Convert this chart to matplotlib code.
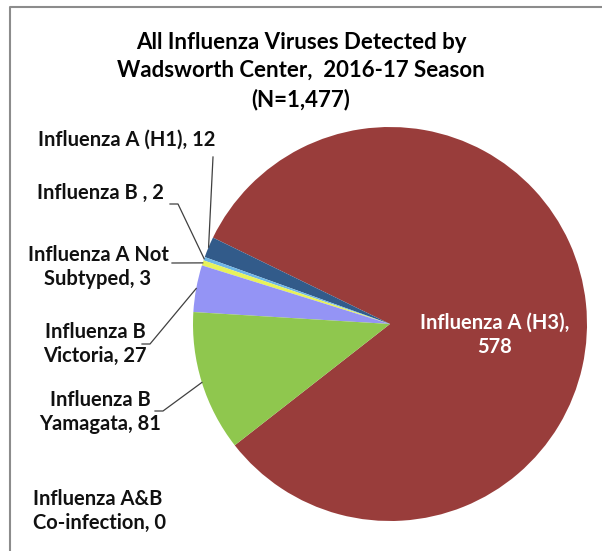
import numpy as np
import matplotlib.pyplot as plt

# data
categories = ['Influenza A (H3)', 'Influenza A (H1)', 'Influenza B ', 'Influenza A Not\nSubtyped',
              'Influenza B\nVictoria', 'Influenza B\nYamagata', 'Influenza A&B\nCo-infection']
counts = [578, 12, 2, 3, 27, 81, 0]
colors = ['#993d3b', '#325b8a', '#6fb6e6', '#e8f25a', '#9494f5', '#8fc74e', '#f79646']
title = 'All Influenza Viruses Detected by\nWadsworth Center,  2016-17 Season\n(N=1,477)'

W, H = 602, 551
plt.rcParams['font.family'] = ['Lato', 'DejaVu Sans']

fig = plt.figure(figsize=(W / 100, H / 100), dpi=100)
ax = fig.add_axes([0, 0, 1, 1])

cx, cy, r = 390, H - 324, 197
wedges, _ = ax.pie(counts, colors=colors, startangle=218, counterclock=True,
                   center=(cx, cy), radius=r, wedgeprops=dict(linewidth=0))
ax.set_xlim(0, W)
ax.set_ylim(0, H)
ax.axis('off')

# frame (top and left edges visible)
ax.plot([10, 10, W + 5], [-5, H - 7, H - 7], color='#8c8c8c', lw=1.5, clip_on=False)

fig.text(0.5, 1 - 71 / H, title, ha='center', va='center', fontsize=16,
         fontweight='bold', linespacing=1.42)

# label positions (pixel), anchor where leader starts (pixel) or None
label_pos = {
    1: ((127, 140), 'center', (213, 157)),
    2: ((100, 193), 'center', (170, 204)),
    3: ((98, 267), 'center', (172, 263)),
    4: ((95, 344), 'center', (142, 344)),
    5: ((100, 412), 'center', (155, 411)),
    6: ((33, 511), 'left', None),
}

def edge_point(w):
    th = np.deg2rad((w.theta1 + w.theta2) / 2)
    return cx + r * np.cos(th), cy + r * np.sin(th)

for i, ((x, y), ha, anchor) in label_pos.items():
    txt = f'{categories[i]}, {counts[i]}'
    ax.text(x, H - y, txt, ha=ha, va='center', fontsize=14.5, fontweight='bold',
            color='#111111', linespacing=1.3)
    if anchor is not None:
        ex, ey = edge_point(wedges[i])
        if i in (2, 4, 5):
            pts_x = [anchor[0], anchor[0] + 8, ex]
            pts_y = [H - anchor[1], H - anchor[1], ey]
        else:
            pts_x = [anchor[0], ex]
            pts_y = [H - anchor[1], ey]
        ax.plot(pts_x, pts_y, color='#404040', lw=0.9)

ax.text(495, H - 335, f'{categories[0]},\n{counts[0]}', ha='center', va='center',
        fontsize=14.5, fontweight='bold', color='white', linespacing=1.3)

fig.savefig('out.png', dpi=100)
